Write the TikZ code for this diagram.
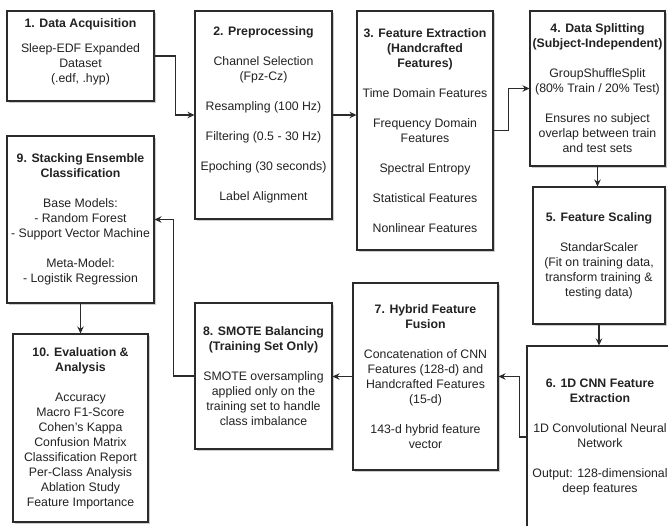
\documentclass[tikz,border=0pt]{standalone}
\usepackage{fontspec}
\setmainfont{Liberation Sans}
\usetikzlibrary{arrows.meta,shadows}
\definecolor{ink}{HTML}{222222}
\definecolor{edge}{HTML}{2B2B2B}
\tikzset{
  box/.style={draw=edge, line width=1.05pt, fill=white, text=ink, align=center,
    inner sep=2pt, font=\fontsize{12.3}{15}\selectfont,
    drop shadow={shadow xshift=2pt, shadow yshift=-2pt, opacity=0.2, fill=black}},
  conn/.style={draw=edge, line width=1.05pt, -{Stealth[length=7pt,width=6.5pt]}}
}
\begin{document}
\begin{tikzpicture}[x=1pt,y=-1pt]
\useasboundingbox (0,0) rectangle (668,526);
\clip (0,0) rectangle (668,526);
\fill[white] (0,0) rectangle (668,526);

\node[box, minimum width=147, minimum height=90] (n1) at (80.5,56)
 {\textbf{1. Data Acquisition}\\[10pt]Sleep-EDF Expanded\\Dataset\\(.edf, .hyp)\\[-5pt]\mbox{}};

\node[box, minimum width=137, minimum height=208] (n2) at (263.5,115)
 {\textbf{2. Preprocessing}\\[15pt]Channel Selection\\(Fpz-Cz)\\[15pt]Resampling (100 Hz)\\[15pt]Filtering (0.5 - 30 Hz)\\[15pt]Epoching (30 seconds)\\[15pt]Label Alignment};

\node[box, minimum width=136, minimum height=239] (n3) at (425,130.5)
 {\textbf{3. Feature Extraction}\\\textbf{(Handcrafted}\\\textbf{Features)}\\[15pt]Time Domain Features\\[15pt]Frequency Domain\\Features\\[15pt]Spectral Entropy\\[15pt]Statistical Features\\[15pt]Nonlinear Features};

\node[box, minimum width=135, minimum height=155] (n4) at (597.5,88.5)
 {\textbf{4. Data Splitting}\\\textbf{(Subject-Independent)}\\[15pt]GroupShuffleSplit\\(80\% Train / 20\% Test)\\[15pt]Ensures no subject\\overlap between train\\and test sets};

\node[box, minimum width=132, minimum height=137] (n5) at (599,255.5)
 {\textbf{5. Feature Scaling}\\[15pt]StandarScaler\\(Fit on training data,\\transform training \&\\testing data)};

\node[box, minimum width=146, minimum height=182] (n6) at (600,437)
 {\textbf{6. 1D CNN Feature}\\\textbf{Extraction}\\[15pt]1D Convolutional Neural\\Network\\[15pt]Output: 128-dimensional\\deep features};

\node[box, minimum width=145, minimum height=187] (n7) at (425.5,376.5)
 {\textbf{7. Hybrid Feature}\\\textbf{Fusion}\\[15pt]Concatenation of CNN\\Features (128-d) and\\Handcrafted Features\\(15-d)\\[15pt]143-d hybrid feature\\vector};

\node[box, minimum width=137, minimum height=146] (n8) at (263.5,376)
 {\textbf{8. SMOTE Balancing}\\\textbf{(Training Set Only)}\\[15pt]SMOTE oversampling\\applied only on the\\training set to handle\\class imbalance};

\node[box, minimum width=147, minimum height=167] (n9) at (80.5,219.5)
 {\textbf{9. Stacking Ensemble}\\\textbf{Classification}\\[15pt]Base Models:\\- Random Forest\\- Support Vector Machine\\[15pt]Meta-Model:\\- Logistik Regression};

\node[box, minimum width=135, minimum height=188] (n10) at (80.5,428)
 {\textbf{10. Evaluation \&}\\\textbf{Analysis}\\[15pt]Accuracy\\Macro F1-Score\\Cohen's Kappa\\Confusion Matrix\\Classification Report\\Per-Class Analysis\\Ablation Study\\Feature Importance};

% connectors
\draw[conn] (n1.east) -- ++(21,0) |- (n2.west);
\draw[conn] (n2.east) -- (n2.east -| n3.west);
\draw[conn] (n3.east) -- ++(15,0) |- (n4.west);
\draw[conn] (n4.south) -- (n4.south |- n5.north);
\draw[conn] (n5.south) -- (n5.south |- n6.north);
\draw[conn] (n6.west) -- ++(-7,0) |- (n7.east);
\draw[conn] (n7.west) -- (n7.west -| n8.east);
\draw[conn] (n8.west) -- ++(-21,0) |- (n9.east);
\draw[conn] (n9.south) -- (n10.north);
\end{tikzpicture}
\end{document}
